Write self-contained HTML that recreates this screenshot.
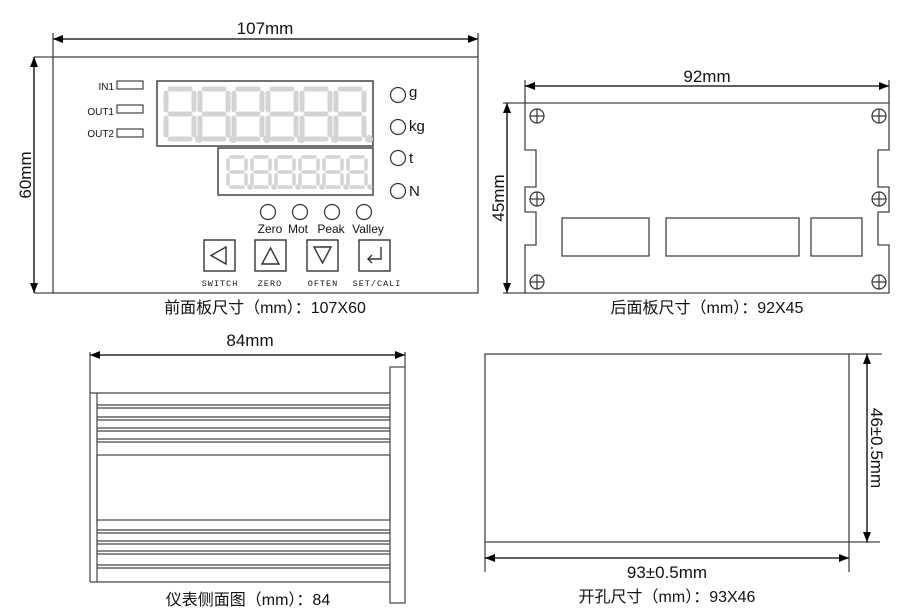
<!DOCTYPE html>
<html><head><meta charset="utf-8">
<style>
html,body{margin:0;padding:0;background:#fff;}
svg{display:block;}
text{font-family:"Liberation Sans","Noto Sans CJK SC",sans-serif;fill:#111;}
text.mono{font-family:"Liberation Mono",monospace;}
</style></head>
<body>
<svg width="903" height="616" viewBox="0 0 903 616" xmlns="http://www.w3.org/2000/svg">
<defs>
<marker id="ar" markerWidth="10" markerHeight="8" refX="10" refY="4" orient="auto-start-reverse" markerUnits="userSpaceOnUse">
<path d="M0,0 L10,4 L0,8 z" fill="#000"/>
</marker>
<g id="dg" stroke="#d4d4d4" stroke-width="5" stroke-linecap="round" fill="none">
<line x1="4" y1="0" x2="24" y2="0"/><line x1="0" y1="4" x2="0" y2="21"/><line x1="28" y1="4" x2="28" y2="21"/>
<line x1="4" y1="25" x2="24" y2="25"/><line x1="0" y1="29" x2="0" y2="46"/><line x1="28" y1="29" x2="28" y2="46"/>
<line x1="4" y1="50" x2="24" y2="50"/><circle cx="33" cy="50" r="1.5" fill="#d4d4d4"/>
</g>
<g id="ds" stroke="#d4d4d4" stroke-width="3.5" stroke-linecap="round" fill="none">
<line x1="3" y1="0" x2="15" y2="0"/><line x1="0" y1="3" x2="0" y2="12"/><line x1="18" y1="3" x2="18" y2="12"/>
<line x1="3" y1="15" x2="15" y2="15"/><line x1="0" y1="18" x2="0" y2="27"/><line x1="18" y1="18" x2="18" y2="27"/>
<line x1="3" y1="30" x2="15" y2="30"/><circle cx="22" cy="30" r="1" fill="#d4d4d4"/>
</g>
<g id="sc" stroke="#333" stroke-width="1.2" fill="none">
<circle r="7"/><line x1="-7" y1="0" x2="7" y2="0"/><line x1="0" y1="-7" x2="0" y2="7"/>
</g>
</defs>

<g stroke="#444" stroke-width="1.3" fill="none">
<rect x="53" y="57" width="425" height="236"/>
<line x1="34" y1="57" x2="53" y2="57"/><line x1="34" y1="293" x2="53" y2="293"/>
<line x1="53" y1="33" x2="53" y2="57"/><line x1="478" y1="33" x2="478" y2="57"/>
</g>
<line x1="53" y1="39" x2="478" y2="39" stroke="#000" stroke-width="1.3" marker-start="url(#ar)" marker-end="url(#ar)"/>
<line x1="34" y1="57" x2="34" y2="293" stroke="#000" stroke-width="1.3" marker-start="url(#ar)" marker-end="url(#ar)"/>
<text x="265" y="34" font-size="17" text-anchor="middle">107mm</text>
<text transform="translate(31,175) rotate(-90)" font-size="17" text-anchor="middle">60mm</text>

<g font-size="10" text-anchor="end"><text x="114" y="90">IN1</text><text x="114" y="115">OUT1</text><text x="114" y="137">OUT2</text></g>
<g stroke="#444" stroke-width="1.2" fill="none">
<rect x="117" y="81" width="26" height="8"/><rect x="117" y="105" width="26" height="8"/><rect x="117" y="129" width="26" height="8"/>
<rect x="157" y="81" width="216" height="65" stroke-width="1.5"/>
<rect x="218" y="148" width="155" height="47" stroke-width="1.5"/>
</g>
<use href="#dg" x="166" y="89"/><use href="#dg" x="200" y="89"/><use href="#dg" x="234" y="89"/><use href="#dg" x="268" y="89"/><use href="#dg" x="302" y="89"/><use href="#dg" x="336" y="89"/>
<use href="#ds" x="228" y="157"/><use href="#ds" x="252" y="157"/><use href="#ds" x="276" y="157"/><use href="#ds" x="300" y="157"/><use href="#ds" x="324" y="157"/><use href="#ds" x="348" y="157"/>

<g stroke="#333" stroke-width="1.2" fill="none">
<circle cx="398" cy="95" r="7.5"/><circle cx="398" cy="127" r="7.5"/><circle cx="398" cy="158" r="7.5"/><circle cx="398" cy="191" r="7.5"/>
<circle cx="268" cy="212" r="7.5"/><circle cx="300" cy="212" r="7.5"/><circle cx="332" cy="212" r="7.5"/><circle cx="364" cy="212" r="7.5"/>
</g>
<g font-size="15"><text x="409" y="97">g</text><text x="409" y="131">kg</text><text x="409" y="163">t</text><text x="409" y="196">N</text></g>
<g font-size="12" text-anchor="middle"><text x="270" y="233">Zero</text><text x="298" y="233">Mot</text><text x="331" y="233">Peak</text><text x="368" y="233">Valley</text></g>

<g stroke="#333" stroke-width="1.4" fill="none">
<rect x="204" y="240" width="31" height="31"/><rect x="255" y="240" width="31" height="31"/><rect x="307" y="240" width="31" height="31"/><rect x="359" y="240" width="31" height="31"/>
<path d="M226,247 L211,255.5 L226,264 Z"/>
<path d="M262,264 L270.5,248 L279,264 Z"/>
<path d="M314,247 L322.5,263 L331,247 Z"/>
<path d="M381,247 L381,259 L368,259 M372,255 L368,259 L372,263"/>
</g>
<g font-size="8.5" letter-spacing="1" text-anchor="middle"><text class="mono" x="220" y="286">SWITCH</text><text class="mono" x="270" y="286">ZERO</text><text class="mono" x="323" y="286">OFTEN</text><text class="mono" x="377" y="286">SET/CALI</text></g>
<text x="265" y="313" font-size="16" text-anchor="middle">前面板尺寸（mm）：107X60</text>

<g stroke="#444" stroke-width="1.3" fill="none">
<path d="M525,103 L889,103 L889,150 L878,150 L878,187 L889,187 L889,212 L878,212 L878,245 L889,245 L889,293 L525,293 L525,245 L536,245 L536,212 L525,212 L525,187 L536,187 L536,150 L525,150 Z"/>
<line x1="525" y1="80" x2="525" y2="103"/><line x1="889" y1="80" x2="889" y2="103"/>
<line x1="503" y1="103" x2="525" y2="103"/><line x1="503" y1="293" x2="525" y2="293"/>
<rect x="562" y="218" width="87" height="38"/><rect x="666" y="218" width="133" height="38"/><rect x="811" y="218" width="51" height="38"/>
</g>
<line x1="525" y1="86" x2="889" y2="86" stroke="#000" stroke-width="1.3" marker-start="url(#ar)" marker-end="url(#ar)"/>
<line x1="507" y1="103" x2="507" y2="293" stroke="#000" stroke-width="1.3" marker-start="url(#ar)" marker-end="url(#ar)"/>
<text x="707" y="82" font-size="17" text-anchor="middle">92mm</text>
<text transform="translate(504,198) rotate(-90)" font-size="17" text-anchor="middle">45mm</text>
<use href="#sc" x="537" y="116"/><use href="#sc" x="537" y="199"/><use href="#sc" x="537" y="282"/>
<use href="#sc" x="879" y="116"/><use href="#sc" x="879" y="199"/><use href="#sc" x="879" y="282"/>
<text x="707" y="313" font-size="16" text-anchor="middle">后面板尺寸（mm）：92X45</text>

<g stroke="#444" stroke-width="1.2" fill="none">
<line x1="90" y1="352" x2="90" y2="582"/>
<rect x="390" y="367" width="15" height="236"/>
<line x1="90" y1="393" x2="390" y2="393"/><line x1="90" y1="582" x2="390" y2="582"/>
<line x1="97" y1="393" x2="97" y2="582"/>
<line x1="97" y1="405" x2="390" y2="405"/><line x1="97" y1="408" x2="390" y2="408"/>
<line x1="97" y1="417" x2="390" y2="417"/><line x1="97" y1="420" x2="390" y2="420"/>
<line x1="97" y1="428" x2="390" y2="428"/><line x1="97" y1="431" x2="390" y2="431"/>
<line x1="97" y1="439" x2="390" y2="439"/><line x1="97" y1="442" x2="390" y2="442"/>
<rect x="97" y="455" width="293" height="65"/>
<line x1="97" y1="530" x2="390" y2="530"/><line x1="97" y1="533" x2="390" y2="533"/>
<line x1="97" y1="541" x2="390" y2="541"/><line x1="97" y1="544" x2="390" y2="544"/>
<line x1="97" y1="551" x2="390" y2="551"/><line x1="97" y1="554" x2="390" y2="554"/>
<line x1="97" y1="565" x2="390" y2="565"/><line x1="97" y1="568" x2="390" y2="568"/>
<line x1="405" y1="352" x2="405" y2="367"/>
</g>
<line x1="90" y1="355" x2="405" y2="355" stroke="#000" stroke-width="1.3" marker-start="url(#ar)" marker-end="url(#ar)"/>
<text x="250" y="346" font-size="17" text-anchor="middle">84mm</text>
<text x="248" y="605" font-size="16" text-anchor="middle">仪表侧面图（mm）：84</text>

<g stroke="#444" stroke-width="1.3" fill="none">
<rect x="485" y="354" width="364" height="188"/>
<line x1="849" y1="354" x2="882" y2="354"/><line x1="849" y1="542" x2="880" y2="542"/>
<line x1="485" y1="542" x2="485" y2="572"/><line x1="849" y1="542" x2="849" y2="572"/>
</g>
<line x1="867" y1="354" x2="867" y2="542" stroke="#000" stroke-width="1.3" marker-start="url(#ar)" marker-end="url(#ar)"/>
<line x1="485" y1="558" x2="849" y2="558" stroke="#000" stroke-width="1.3" marker-start="url(#ar)" marker-end="url(#ar)"/>
<text transform="translate(871,448) rotate(90)" font-size="17" text-anchor="middle">46±0.5mm</text>
<text x="667" y="578" font-size="17" text-anchor="middle">93±0.5mm</text>
<text x="667" y="602" font-size="16" text-anchor="middle">开孔尺寸（mm）：93X46</text>
</svg>
</body></html>
